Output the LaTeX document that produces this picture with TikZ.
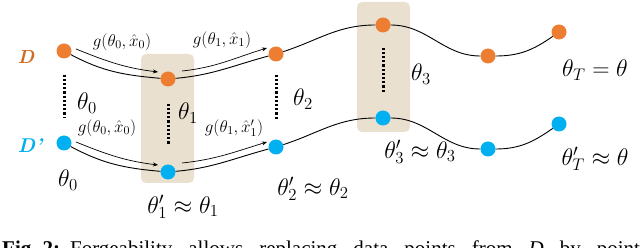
\RequirePackage{fix-cm}
\documentclass[tikz,border=0pt]{standalone}
\usepackage{fontspec}
\newfontfamily\capfont{Liberation Serif}
\usetikzlibrary{arrows.meta}
\definecolor{dorange}{HTML}{ED7D31}
\definecolor{dblue}{HTML}{00B0F0}
\definecolor{dlab}{HTML}{D06A25}
\definecolor{beige}{HTML}{E9E0D0}
\begin{document}
\begin{tikzpicture}[x=1pt,y=1pt,
  dot/.style={circle, fill=#1, minimum size=15pt, inner sep=0pt},
  traj/.style={line width=0.9pt},
  upd/.style={line width=0.7pt, -{Stealth[length=5pt,width=4pt]}},
  dotline/.style={line width=3pt, dash pattern=on 2.2pt off 2pt},
  lab/.style={font=\fontsize{24}{24}\selectfont, inner sep=0pt},
  glab/.style={font=\fontsize{17}{17}\selectfont, inner sep=0pt},
  band/.style={fill=beige, rounded corners=5pt}]
\useasboundingbox (0,0) rectangle (640,-248);
\clip (0,0) rectangle (640,-248);
% shaded bands
\fill[band] (141,-54) rectangle (194,-183);
\fill[band] (357,-2) rectangle (410,-132);
% nodes D
\node[dot=dorange] (D0) at (64,-51) {};
\node[dot=dorange] (D1) at (168,-79) {};
\node[dot=dorange] (D2) at (276,-54) {};
\node[dot=dorange] (D3) at (383,-25) {};
\node[dot=dorange] (D4) at (488,-56) {};
\node[dot=dorange] (D5) at (559,-32) {};
% nodes D'
\node[dot=dblue] (B0) at (64,-143) {};
\node[dot=dblue] (B1) at (168,-172) {};
\node[dot=dblue] (B2) at (276,-147) {};
\node[dot=dblue] (B3) at (383,-118) {};
\node[dot=dblue] (B4) at (488,-149) {};
\node[dot=dblue] (B5) at (559,-124) {};
% trajectories
\draw[traj] (D0) to[out=-28,in=175] (D1);
\draw[traj] (D1) to[out=5,in=195] (D2);
\draw[traj] (D2) to[out=18,in=180] (D3);
\draw[traj] (D3) to[out=0,in=180] (D4);
\draw[traj] (D4) to[out=0,in=215] (D5);
\draw[traj] (B0) to[out=-28,in=175] (B1);
\draw[traj] (B1) to[out=5,in=195] (B2);
\draw[traj] (B2) to[out=18,in=180] (B3);
\draw[traj] (B3) to[out=0,in=180] (B4);
\draw[traj] (B4) to[out=0,in=215] (B5);
% update arrows
\coordinate (a1s) at (76,-49);  \coordinate (a1e) at (158,-72);
\coordinate (a2s) at (182,-71); \coordinate (a2e) at (267,-48);
\coordinate (b1s) at (76,-142); \coordinate (b1e) at (158,-165);
\coordinate (b2s) at (182,-163); \coordinate (b2e) at (267,-142);
\draw[upd] (a1s) to[out=-22,in=173] (a1e);
\draw[upd] (a2s) to[out=6,in=197] (a2e);
\draw[upd] (b1s) to[out=-22,in=173] (b1e);
\draw[upd] (b2s) to[out=6,in=197] (b2e);
% dotted links
\draw[dotline, shorten <=16pt, shorten >=18pt] (D0) -- (B0);
\draw[dotline, shorten <=17pt, shorten >=19pt] (D1) -- (B1);
\draw[dotline, shorten <=13pt, shorten >=20pt] (D2) -- (B2);
\draw[dotline, shorten <=15pt, shorten >=18pt] (D3) -- (B3);
% labels
\node[inner sep=0pt, text=dlab, font=\fontsize{19}{19}\selectfont\bfseries\itshape] (LD) at (26,-57) {D};
\node[inner sep=0pt, text=dblue, font=\fontsize{20}{20}\selectfont\bfseries\itshape] (LDp) at (30,-146) {D'};
\node[glab] (g1) at (122,-42) {$g(\theta_0,\hat{x}_0)$};
\node[glab] (g2) at (222,-40) {$g(\theta_1,\hat{x}_1)$};
\node[glab] (g3) at (107,-128) {$g(\theta_0,\hat{x}_0)$};
\node[glab] (g4) at (234,-128) {$g(\theta_1,\hat{x}_1')$};
\node[lab] (t0a) at (87,-103) {$\theta_0$};
\node[lab] (t1a) at (188,-113) {$\theta_1$};
\node[lab] (t2a) at (303,-99) {$\theta_2$};
\node[lab] (t3a) at (421,-74) {$\theta_3$};
\node[lab] (tTa) at (595,-70) {$\theta_T=\theta$};
\node[lab] (t0b) at (68,-180) {$\theta_0$};
\node[lab] (t1b) at (183,-207) {$\theta_1'\approx\theta_1$};
\node[lab] (t2b) at (313,-189) {$\theta_2'\approx\theta_2$};
\node[lab] (t3b) at (420,-152) {$\theta_3'\approx\theta_3$};
\node[lab] (tTb) at (595,-159) {$\theta_T'\approx\theta$};
% caption (clipped)
\node[anchor=north west, inner sep=0pt] (cap) at (2,-241) {\capfont\fontsize{21}{21}\selectfont\makebox[646pt][s]{\textbf{Fig.\hspace{6pt}2:}\hspace{10pt}Forgeability allows replacing data points from \textit{D} by points}};
\end{tikzpicture}
\end{document}
